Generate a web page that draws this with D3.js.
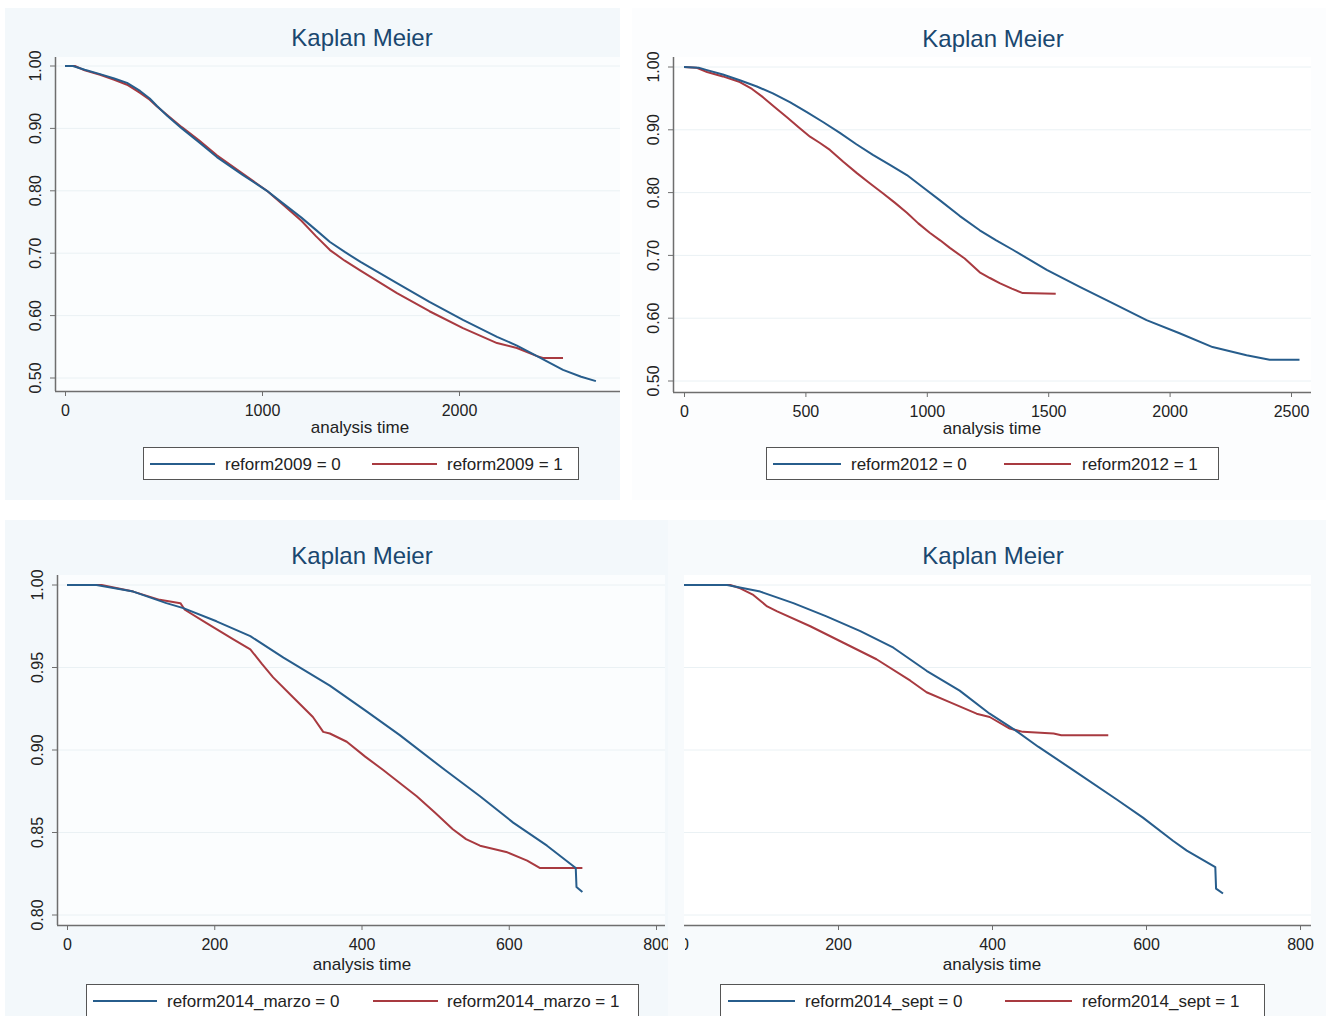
<!DOCTYPE html>
<html>
<head>
<meta charset="utf-8">
<script src="https://cdn.jsdelivr.net/npm/d3@7/dist/d3.min.js"></script>
<style>
  html,body{margin:0;padding:0;background:#fff;}
  svg{display:block;font-family:"Liberation Sans",Arial,sans-serif;}
</style>
</head>
<body>
<svg id="chart" width="1326" height="1016"></svg>
<script>
// Kaplan-Meier estimates: [analysis time, survival]
const p1Blue = [[0,1],[40,1],[100,0.994],[178,0.987],[250,0.98],[315,0.973],[381,0.96],[430,0.948],[467,0.936],[520,0.92],[593,0.90],[680,0.878],[771,0.854],[900,0.826],[1025,0.80],[1110,0.779],[1200,0.757],[1275,0.737],[1345,0.718],[1420,0.702],[1500,0.686],[1685,0.652],[1850,0.622],[2020,0.593],[2193,0.566],[2294,0.552],[2396,0.535],[2528,0.513],[2620,0.502],[2695,0.495]];
const p1Red  = [[0,1],[50,1],[100,0.993],[178,0.986],[250,0.978],[315,0.97],[381,0.957],[430,0.946],[467,0.935],[520,0.921],[593,0.902],[680,0.881],[771,0.857],[900,0.828],[1025,0.80],[1110,0.777],[1200,0.752],[1275,0.727],[1345,0.705],[1420,0.688],[1500,0.672],[1685,0.636],[1850,0.607],[2020,0.58],[2193,0.556],[2294,0.548],[2396,0.535],[2426,0.532],[2528,0.532]];

const p2Blue = [[0,1],[60,0.999],[95,0.995],[160,0.988],[230,0.979],[300,0.969],[366,0.958],[436,0.944],[506,0.928],[574,0.912],[642,0.895],[710,0.877],[778,0.86],[848,0.844],[918,0.828],[985,0.808],[1053,0.788],[1135,0.763],[1218,0.74],[1286,0.724],[1354,0.709],[1494,0.677],[1630,0.65],[1765,0.624],[1905,0.597],[2041,0.576],[2177,0.554],[2317,0.541],[2412,0.534],[2535,0.534]];
const p2Red  = [[0,1],[50,0.999],[95,0.992],[160,0.985],[230,0.976],[280,0.965],[325,0.952],[374,0.936],[424,0.92],[472,0.904],[519,0.889],[560,0.879],[601,0.868],[656,0.849],[712,0.831],[765,0.815],[819,0.799],[868,0.784],[918,0.768],[965,0.751],[1012,0.736],[1055,0.724],[1095,0.712],[1156,0.695],[1218,0.673],[1260,0.664],[1300,0.656],[1350,0.647],[1395,0.64],[1531,0.639]];

const p3Blue = [[0,1],[40,1],[90,0.996],[135,0.989],[158,0.986],[203,0.978],[249,0.969],[294,0.956],[357,0.939],[405,0.924],[452,0.909],[513,0.888],[561,0.872],[606,0.856],[652,0.842],[691,0.8285],[692,0.817],[700,0.814]];
const p3Red  = [[0,1],[47,1],[90,0.996],[126,0.991],[154,0.989],[160,0.985],[189,0.977],[226,0.967],[249,0.961],[265,0.952],[280,0.944],[307,0.932],[334,0.92],[348,0.911],[357,0.91],[380,0.905],[405,0.896],[429,0.888],[475,0.872],[500,0.862],[524,0.852],[542,0.846],[561,0.842],[598,0.838],[625,0.833],[642,0.8285],[700,0.8285]];

const p4Blue = [[0,1],[56,1],[99,0.996],[142,0.989],[185,0.981],[229,0.972],[272,0.962],[315,0.948],[358,0.936],[397,0.922],[430,0.912],[460,0.902],[505,0.888],[562,0.87],[596,0.859],[635,0.845],[653,0.839],[690,0.829],[691,0.816],[700,0.813]];
const p4Red  = [[0,1],[60,1],[73,0.998],[90,0.994],[108,0.987],[121,0.984],[164,0.975],[207,0.965],[250,0.955],[294,0.942],[315,0.935],[345,0.929],[380,0.922],[397,0.92],[423,0.913],[440,0.911],[480,0.91],[490,0.909],[551,0.909]];

const xTicks1 = [0,1000,2000];
const xTicks2 = [0,500,1000,1500,2000,2500];
const xTicks3 = [0,200,400,600,800];
const yTicksTop = [0.5,0.6,0.7,0.8,0.9,1.0];
const yTicksBot = [0.80,0.85,0.90,0.95,1.00];
const legendNames = ['reform2009','reform2012','reform2014_marzo','reform2014_sept'];

const BLUE='#275d8c', RED='#a83a40', TITLE='#1a476f', AXIS='#6e6e6e';

// layout of each panel (pixel positions in the composite image)
const panels = [
  {blue:p1Blue, red:p1Red, name:legendNames[0], xTicks:xTicks1, yTicks:yTicksTop, showY:true, clipX:0,
   bg:[5,8,615,492], bgFill:'#f3f8fb', plot:[55,57,620,391], plotFill:'#fbfdfe',
   xr:[0,2000,65,459], yr:[0.5,1,378,66], titleX:362, titleY:46, xlabX:360, xlabY:433,
   leg:[143,447,435,32], legB:[150,215,225], legR:[372,437,447]},
  {blue:p2Blue, red:p2Red, name:legendNames[1], xTicks:xTicks2, yTicks:yTicksTop, showY:true, clipX:0,
   bg:[632,8,694,492], bgFill:'#fcfdfe', plot:[673,57,1311,392], plotFill:'#ffffff',
   xr:[0,2500,684,1291], yr:[0.5,1,381,67], titleX:993, titleY:47, xlabX:992, xlabY:434,
   leg:[766,447,452,32], legB:[773,841,851], legR:[1004,1071,1082]},
  {blue:p3Blue, red:p3Red, name:legendNames[2], xTicks:xTicks3, yTicks:yTicksBot, showY:true, clipX:0,
   bg:[5,520,663,496], bgFill:'#f3f8fb', plot:[57,575,665,925], plotFill:'#fbfdfe',
   xr:[0,800,67,656], yr:[0.8,1,915,585], titleX:362, titleY:564, xlabX:362, xlabY:970,
   leg:[86,984,552,40], legB:[93,157,167], legR:[373,438,447]},
  {blue:p4Blue, red:p4Red, name:legendNames[3], xTicks:xTicks3, yTicks:yTicksBot, showY:false, clipX:685,
   bg:[668,520,658,496], bgFill:'#f7fafc', plot:[684,575,1311,925], plotFill:'#ffffff',
   xr:[0,800,684,1300], yr:[0.8,1,915,585], titleX:993, titleY:564, xlabX:992, xlabY:970,
   leg:[720,984,544,40], legB:[728,795,805], legR:[1005,1072,1082]}
];

const svg = d3.select('#chart');
svg.append('rect').attr('width',1326).attr('height',1016).attr('fill','#ffffff');

panels.forEach((p,i)=>{
  const g = svg.append('g');
  const [pl,pt,pr,pb] = p.plot;
  g.append('rect').attr('x',p.bg[0]).attr('y',p.bg[1]).attr('width',p.bg[2]).attr('height',p.bg[3]).attr('fill',p.bgFill);
  g.append('rect').attr('x',pl).attr('y',pt).attr('width',pr-pl).attr('height',pb-pt).attr('fill',p.plotFill);

  const x = d3.scaleLinear().domain([p.xr[0],p.xr[1]]).range([p.xr[2],p.xr[3]]);
  const y = d3.scaleLinear().domain([p.yr[0],p.yr[1]]).range([p.yr[2],p.yr[3]]);

  // faint grid
  g.append('g').selectAll('line').data(p.yTicks).join('line')
    .attr('x1',pl).attr('x2',pr).attr('y1',d=>y(d)).attr('y2',d=>y(d))
    .attr('stroke','#eaf1f4').attr('stroke-width',1);

  // x axis (bottom-right panel is cut off at its left edge in the source image)
  const xg = g.append('g');
  if(p.clipX){
    svg.append('clipPath').attr('id','clip'+i).append('rect')
      .attr('x',p.clipX).attr('y',0).attr('width',1326-p.clipX).attr('height',1016);
    xg.attr('clip-path',`url(#clip${i})`);
  }
  const xa = xg.append('g').attr('transform',`translate(0,${pb})`)
    .call(d3.axisBottom(x).tickValues(p.xTicks).tickSize(5).tickPadding(9).tickFormat(d3.format('d')));
  xa.select('.domain').remove();
  xa.selectAll('line').attr('stroke',AXIS);
  xa.selectAll('text').attr('font-size',16).attr('fill','#222').attr('font-family','"Liberation Sans",Arial,sans-serif');
  g.append('line').attr('x1',pl).attr('x2',pr).attr('y1',pb+0.5).attr('y2',pb+0.5).attr('stroke',AXIS).attr('stroke-width',1.5);

  // y axis
  if(p.showY){
    g.append('line').attr('x1',pl+0.5).attr('x2',pl+0.5).attr('y1',pt).attr('y2',pb).attr('stroke',AXIS).attr('stroke-width',1.5);
    g.append('g').selectAll('line').data(p.yTicks).join('line')
      .attr('x1',pl-5).attr('x2',pl).attr('y1',d=>y(d)).attr('y2',d=>y(d)).attr('stroke',AXIS);
    g.append('g').selectAll('text').data(p.yTicks).join('text')
      .attr('transform',d=>`translate(${pl-14},${y(d)}) rotate(-90)`)
      .attr('text-anchor','middle').attr('font-size',16).attr('fill','#222')
      .text(d=>d3.format('.2f')(d));
  }

  // curves
  const line = d3.line().x(d=>x(d[0])).y(d=>y(d[1]));
  g.append('path').datum(p.red).attr('d',line).attr('fill','none').attr('stroke',RED).attr('stroke-width',2).attr('stroke-linejoin','round');
  g.append('path').datum(p.blue).attr('d',line).attr('fill','none').attr('stroke',BLUE).attr('stroke-width',2).attr('stroke-linejoin','round');

  // title and x label
  g.append('text').attr('x',p.titleX).attr('y',p.titleY).attr('text-anchor','middle')
    .attr('font-size',24).attr('fill',TITLE).text('Kaplan Meier');
  g.append('text').attr('x',p.xlabX).attr('y',p.xlabY).attr('text-anchor','middle')
    .attr('font-size',17).attr('fill','#222').text('analysis time');

  // legend
  const [lx,ly,lw,lh] = p.leg;
  g.append('rect').attr('x',lx+0.5).attr('y',ly+0.5).attr('width',lw).attr('height',lh)
    .attr('fill','#ffffff').attr('stroke','#555').attr('stroke-width',1);
  const cy = ly+17;
  [[p.legB,BLUE,0],[p.legR,RED,1]].forEach(([pos,col,v])=>{
    g.append('line').attr('x1',pos[0]).attr('x2',pos[1]).attr('y1',cy).attr('y2',cy).attr('stroke',col).attr('stroke-width',2);
    g.append('text').attr('x',pos[2]).attr('y',cy+6).attr('font-size',17).attr('fill','#222').text(`${p.name} = ${v}`);
  });
});
</script>
</body>
</html>
